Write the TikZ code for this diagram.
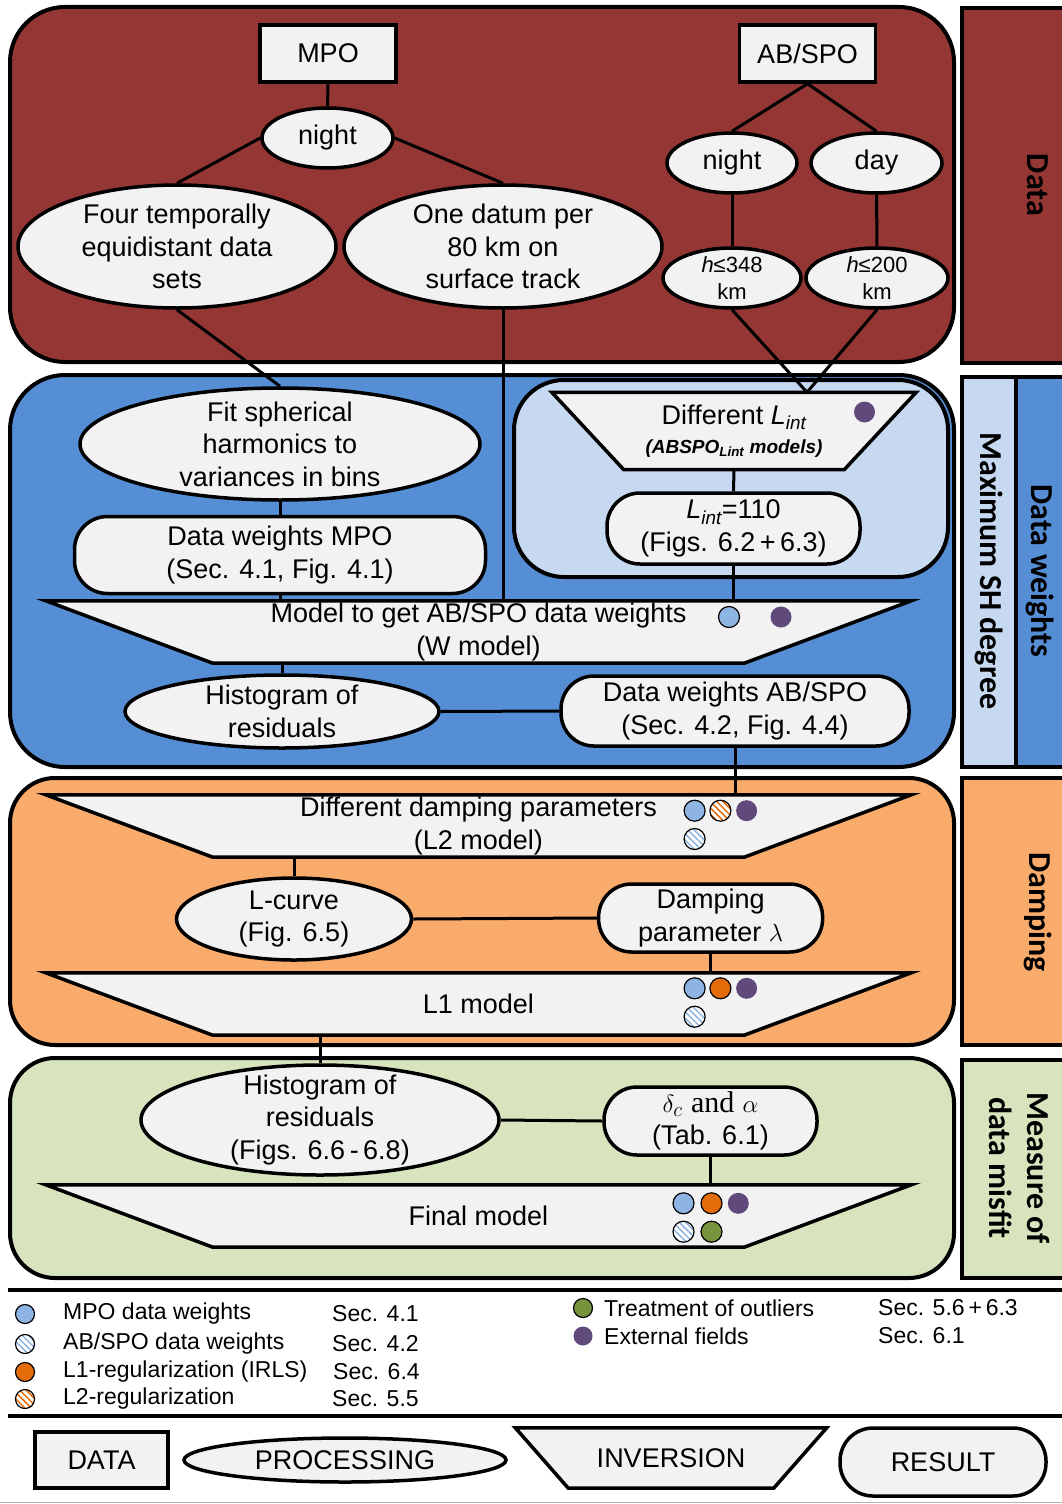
\documentclass[tikz,border=0pt]{standalone}
\usepackage{fontspec}
\setmainfont{Liberation Sans}
\newfontfamily\sidefont{Carlito}
\newfontfamily\serifface{Liberation Serif}
\usetikzlibrary{shapes.geometric,patterns.meta}

\pgfdeclarelayer{panels}
\pgfdeclarelayer{shapes}
\pgfsetlayers{panels,shapes,main}

\definecolor{datared}{HTML}{943634}
\definecolor{wblue}{HTML}{558ED5}
\definecolor{wlight}{HTML}{C6D9F1}
\definecolor{damporange}{HTML}{F9AB6C}
\definecolor{misgreen}{HTML}{D7E4BD}
\definecolor{boxgray}{HTML}{F2F2F2}
\definecolor{dotblue}{HTML}{8EB4E3}
\definecolor{dotpurple}{HTML}{604A7B}
\definecolor{dotorange}{HTML}{E46C0A}
\definecolor{dotgreen}{HTML}{77933C}

\newcommand\mainfs{\fontsize{27}{32.5}\selectfont}
\newcommand\smallfs{\fontsize{22}{27}\selectfont}
\newcommand\legfs{\fontsize{23}{28}\selectfont}
\newcommand\sidefs{\sidefont\bfseries\fontsize{32}{38}\selectfont}

\tikzset{
  panel/.style    = {draw, line width=4pt, rounded corners=#1},
  sidebox/.style  = {draw, line width=4pt},
  sidetxt/.style  = {rotate=-90, align=center, font=\sidefs, inner sep=0pt},
  txt/.style      = {align=center, font=\mainfs, inner sep=0pt},
  smalltxt/.style = {align=center, font=\smallfs, inner sep=0pt},
  legtxt/.style   = {anchor=west, font=\legfs, inner sep=0pt},
  datbox/.style   = {draw, line width=3.5pt, fill=boxgray, minimum width=136pt,
                     minimum height=57pt, font=\mainfs},
  proc/.style 2 args   = {draw, line width=3.5pt, fill=boxgray, ellipse,
                     minimum width=#1, minimum height=#2, inner sep=0pt},
  resbox/.style 2 args = {draw, line width=3.5pt, fill=boxgray, rounded corners=33pt,
                     minimum width=#1, minimum height=#2, inner sep=0pt,
                     align=center, font=\mainfs},
  invtxt/.style 2 args = {minimum width=#1, minimum height=#2, inner sep=0pt,
                     align=center, font=\mainfs},
  invline/.style  = {draw, line width=3.5pt, fill=boxgray, line join=miter},
  conn/.style     = {line width=3pt},
  sepline/.style  = {line width=3.5pt},
  dot/.style      = {circle, draw, line width=1.2pt, fill=#1, inner sep=0pt, minimum size=21pt},
  fulldot/.style  = {circle, fill=#1, inner sep=0pt, minimum size=21pt},
  hatchdot/.style = {circle, draw, line width=1.2pt, preaction={fill=white},
                     pattern={Lines[angle=-45,distance=4.5pt,line width=1.5pt]},
                     pattern color=#1, inner sep=0pt, minimum size=21pt}
}

% inversion box: trapezoid behind the text node #1, bottom corners moved in by #2
\newcommand\invshape[2]{%
  \begin{pgfonlayer}{shapes}
    \draw[invline] (#1.north west) -- (#1.north east)
      -- ([xshift=-#2]#1.south east) -- ([xshift=#2]#1.south west) -- cycle;
  \end{pgfonlayer}}

\begin{document}
\begin{tikzpicture}[x=1pt,y=-1pt]
  \useasboundingbox (0,0) rectangle (1062,1504);
  \begin{pgfonlayer}{panels}
  \fill[white] (0,0) rectangle (1062,1504);
  % panels
  \draw[panel=55pt, fill=datared] (10,7) rectangle (954,362);
  \draw[sidebox, fill=datared] (962,8) rectangle (1070,363);
  \draw[panel=55pt, fill=wblue] (10,375) rectangle (954,767);
  \draw[panel=50pt, fill=wlight] (514,380) rectangle (948,577);
  \draw[sidebox, fill=wlight] (962,377) rectangle (1016,767);
  \draw[sidebox, fill=wblue] (1016,377) rectangle (1070,767);
  \draw[panel=45pt, fill=damporange] (10,778) rectangle (954,1045);
  \draw[sidebox, fill=damporange] (962,778) rectangle (1070,1045);
  \draw[panel=45pt, fill=misgreen] (10,1058) rectangle (954,1278);
  \draw[sidebox, fill=misgreen] (962,1060) rectangle (1070,1278);
  \end{pgfonlayer}

  \node[sidetxt] (sdata) at (1038,185) {Data};
  \node[sidetxt] (smax) at (989,571) {Maximum SH degree};
  \node[sidetxt] (sweight) at (1040,571) {Data weights};
  \node[sidetxt] (sdamp) at (1038,912) {Damping};
  \node[sidetxt] (smisfit) at (1019,1168) {Measure of\\data misfit};

  % data
  \node[datbox] (mpo) at (328,53.5) {MPO};
  \node[datbox] (abspo) at (807.5,53.5) {AB/SPO};
  \node[proc={131pt}{60pt}, label={[txt]center:night}] (night1) at (327.5,138) {};
  \node[proc={318pt}{123pt}, label={[txt]center:Four temporally\\equidistant data\\sets}] (four) at (177,246.5) {};
  \node[proc={318pt}{123pt}, label={[txt]center:One datum per\\80 km on\\surface track}] (datum) at (503,246.5) {};
  \node[proc={130pt}{60pt}, label={[txt]center:night}] (night2) at (732,163) {};
  \node[proc={131pt}{60pt}, label={[txt]center:day}] (day) at (876.5,163) {};
  \node[proc={138pt}{60pt}, label={[smalltxt]center:{\itshape h}≤348\\km}] (hnight) at (732,278) {};
  \node[proc={142pt}{60pt}, label={[smalltxt]center:{\itshape h}≤200\\km}] (hday) at (877,278) {};

  % data weights
  \node[proc={400pt}{112pt}, label={[txt]center:Fit spherical\\harmonics to\\variances in bins}] (fit) at (280,444) {};
  \node[resbox={411pt}{77pt}] (dwmpo) at (280,555) {Data weights MPO\\(Sec. 4.1, Fig. 4.1)};
  \node[invtxt={364pt}{77pt}] (lint) at (734,431)
       {Different {\itshape L}\textsubscript{\itshape int}\\[-4pt]
        {\fontsize{19}{22}\selectfont\bfseries\itshape (ABSPO\textsubscript{Lint} models)}};
  \invshape{lint}{72pt}
  \node[resbox={253pt}{71pt}] (lint110) at (733.5,528.5)
       {{\itshape L}\textsubscript{\itshape int}=110\\(Figs. 6.2\,+\,6.3)};
  \node[invtxt={865pt}{62pt}] (wmod) at (478.5,632)
       {Model to get AB/SPO data weights\\(W model)};
  \invshape{wmod}{167pt}
  \node[proc={314pt}{73pt}, label={[txt]center:Histogram of\\residuals}] (hist1) at (282,711.5) {};
  \node[resbox={348pt}{70pt}] (dwab) at (735,711) {Data weights AB/SPO\\(Sec. 4.2, Fig. 4.4)};
  \node[fulldot=dotpurple] (ld1) at (864.5,412) {};
  \node[dot=dotblue] (wd1) at (729,617) {};
  \node[fulldot=dotpurple] (wd2) at (781,617) {};

  % damping
  \node[invtxt={865pt}{62pt}] (ltwo) at (478.5,826)
       {Different damping parameters\\(L2 model)};
  \invshape{ltwo}{167pt}
  \node[proc={235pt}{82pt}, label={[txt]center:L-curve\\(Fig. 6.5)}] (lcurve) at (294,919) {};
  \node[resbox={224pt}{68pt}] (damp) at (710.6,918) {Damping\\parameter $\lambda$};
  \node[invtxt={865pt}{62pt}] (lone) at (478.5,1004) {L1 model};
  \invshape{lone}{167pt}
  \node[dot=dotblue] (td1) at (694.6,810.7) {};
  \node[hatchdot=dotorange] (td2) at (720.4,810.7) {};
  \node[fulldot=dotpurple] (td3) at (746.6,810.7) {};
  \node[hatchdot=dotblue] (td4) at (694.6,839) {};
  \node[dot=dotblue] (od1) at (694.6,988.3) {};
  \node[dot=dotorange] (od2) at (720.4,988.3) {};
  \node[fulldot=dotpurple] (od3) at (746.6,988.3) {};
  \node[hatchdot=dotblue] (od4) at (694.6,1016.7) {};

  % data misfit
  \node[proc={358pt}{110pt}, label={[txt]center:Histogram of\\residuals\\(Figs. 6.6\,-\,6.8)}] (hist3) at (320,1120) {};
  \node[resbox={213pt}{68pt}] (delta) at (710.5,1121)
       {{\fontsize{30}{32.5}\selectfont$\delta_c$ {\serifface and} $\alpha$}\\(Tab. 6.1)};
  \node[invtxt={865pt}{62pt}] (final) at (478.5,1216) {Final model};
  \invshape{final}{167pt}
  \node[dot=dotblue] (fd1) at (683.5,1203.3) {};
  \node[dot=dotorange] (fd2) at (711.5,1203.3) {};
  \node[fulldot=dotpurple] (fd3) at (738.3,1203.3) {};
  \node[hatchdot=dotblue] (fd4) at (683.5,1231.7) {};
  \node[dot=dotgreen] (fd5) at (711.5,1231.7) {};

  % connectors
  \coordinate (meet) at ([xshift=73pt]lint.north);
  \draw[conn] (mpo) -- (night1);
  \draw[conn] (night1.west) -- (four.north);
  \draw[conn] (night1.east) -- (datum.north);
  \draw[conn] (abspo.south) -- (night2.north);
  \draw[conn] (abspo.south) -- (day.north);
  \draw[conn] (night2) -- (hnight);
  \draw[conn] (day) -- (hday);
  \draw[conn] (hnight.south) -- (meet);
  \draw[conn] (hday.south) -- (meet);
  \draw[conn] (four.south) -- (fit.north);
  \draw[conn] (datum.south) -- (datum.south |- wmod.north);
  \draw[conn] (fit) -- (dwmpo);
  \draw[conn] (dwmpo.south) -- (dwmpo.south |- wmod.north);
  \draw[conn] (lint.south) -- (lint110.north);
  \draw[conn] (lint110.south) -- (lint110.south |- wmod.north);
  \draw[conn] (wmod.south -| hist1.north) -- (hist1.north);
  \draw[conn] (hist1.east) -- (dwab.west);
  \draw[conn] (dwab.south) -- (dwab.south |- ltwo.north);
  \draw[conn] (ltwo.south -| lcurve.north) -- (lcurve.north);
  \draw[conn] (lcurve.east) -- (damp.west);
  \draw[conn] (damp.south) -- (damp.south |- lone.north);
  \draw[conn] (lone.south -| hist3.north) -- (hist3.north);
  \draw[conn] (hist3.east) -- (delta.west);
  \draw[conn] (delta.south) -- (delta.south |- final.north);

  % legend
  \draw[sepline] (8,1290) -- (1062,1290);
  \draw[sepline] (8,1416) -- (1062,1416);
  \draw[gray!60, line width=1.5pt] (0,1502.5) -- (1062,1502.5);

  \node[dot=dotblue, minimum size=19pt] (k1) at (25,1314) {};
  \node[hatchdot=dotblue, minimum size=19pt] (k2) at (25,1344) {};
  \node[dot=dotorange, minimum size=19pt] (k3) at (25,1372) {};
  \node[hatchdot=dotorange, minimum size=19pt] (k4) at (25,1399) {};
  \node[legtxt] (k1t) at (63,1314) {MPO data weights};
  \node[legtxt] (k2t) at (63,1344) {AB/SPO data weights};
  \node[legtxt] (k3t) at (63,1372) {L1-regularization (IRLS)};
  \node[legtxt] (k4t) at (63,1399) {L2-regularization};
  \node[legtxt] (k1s) at (332,1314) {Sec. 4.1};
  \node[legtxt] (k2s) at (332,1344) {Sec. 4.2};
  \node[legtxt] (k3s) at (333,1372) {Sec. 6.4};
  \node[legtxt] (k4s) at (332,1399) {Sec. 5.5};
  \node[dot=dotgreen, minimum size=19pt] (k5) at (583,1308) {};
  \node[fulldot=dotpurple, minimum size=19pt] (k6) at (583,1336) {};
  \node[legtxt] (k5t) at (604,1308) {Treatment of outliers};
  \node[legtxt] (k6t) at (604,1336) {External fields};
  \node[legtxt] (k5s) at (878,1308) {Sec. 5.6\,+\,6.3};
  \node[legtxt] (k6s) at (878,1336) {Sec. 6.1};

  \node[datbox, minimum width=133pt, minimum height=56pt] (kdata) at (101.5,1460) {DATA};
  \node[proc={322pt}{44pt}, label={[txt]center:PROCESSING}] (kproc) at (345,1460) {};
  \node[invtxt={311pt}{60pt}] (kinv) at (671,1458) {INVERSION};
  \invshape{kinv}{53pt}
  \node[resbox={206pt}{68pt}] (kres) at (943,1462) {RESULT};
\end{tikzpicture}
\end{document}
